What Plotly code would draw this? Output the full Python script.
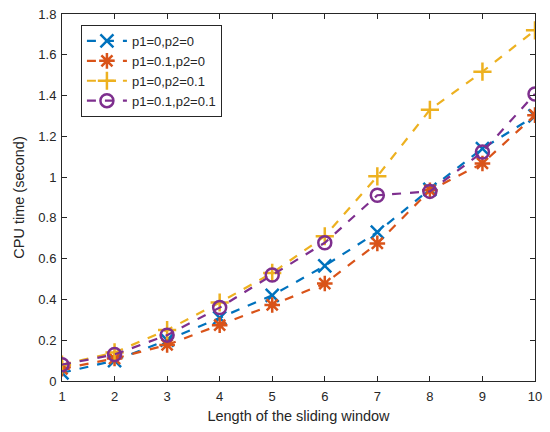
import plotly.graph_objects as go

window_len = [1, 2, 3, 4, 5, 6, 7, 8, 9, 10]

t_p00 = [0.04, 0.10, 0.20, 0.31, 0.42, 0.565, 0.73, 0.94, 1.14, 1.30]
t_p10 = [0.06, 0.11, 0.177, 0.274, 0.373, 0.478, 0.675, 0.935, 1.067, 1.304]
t_p01 = [0.08, 0.14, 0.25, 0.385, 0.53, 0.71, 1.004, 1.33, 1.517, 1.72]
t_p11 = [0.08, 0.13, 0.225, 0.36, 0.52, 0.678, 0.911, 0.93, 1.123, 1.408]

series = [
    ("p1=0,p2=0", t_p00, "#0072BD", "x-thin-open"),
    ("p1=0.1,p2=0", t_p10, "#D95319", "asterisk-open"),
    ("p1=0,p2=0.1", t_p01, "#EDB120", "cross-thin-open"),
    ("p1=0.1,p2=0.1", t_p11, "#7E2F8E", "circle-open"),
]

fig = go.Figure()
for name, vals, color, sym in series:
    fig.add_trace(go.Scatter(
        x=window_len, y=vals, name=name, mode="lines+markers",
        line=dict(color=color, width=2.2, dash="dash"),
        marker=dict(symbol=sym, size=13, color=color,
                    line=dict(color=color, width=2.5)),
    ))

axis_common = dict(
    showline=True, linecolor="#262626", linewidth=1, mirror="ticks",
    ticks="inside", ticklen=5, tickcolor="#262626", showgrid=False,
    zeroline=False, tickfont=dict(size=13, color="#262626"),
    ticklabeloverflow="allow",
)

fig.update_layout(
    width=550, height=432,
    margin=dict(l=62, r=15, t=7, b=51),
    paper_bgcolor="white", plot_bgcolor="white",
    font=dict(family="Liberation Sans, Arial, sans-serif", color="#262626"),
    xaxis=dict(range=[1, 10], dtick=1, ticklabelstandoff=3,
               title=dict(text="Length of the sliding window",
                          font=dict(size=14.5), standoff=8),
               **axis_common),
    yaxis=dict(range=[0, 1.8], dtick=0.2, ticklabelstandoff=2,
               title=dict(text="CPU time (second)",
                          font=dict(size=14.5), standoff=10),
               **axis_common),
    legend=dict(x=0.04, y=0.97, xanchor="left", yanchor="top",
                bgcolor="white", bordercolor="#262626", borderwidth=1,
                font=dict(size=13), tracegroupgap=0, itemwidth=40),
    showlegend=True,
)

fig.write_html("out.html")
